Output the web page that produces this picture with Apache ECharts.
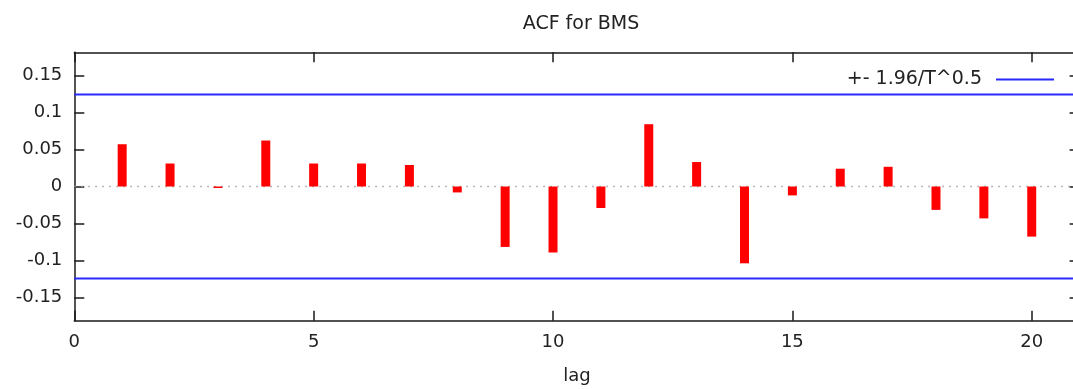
<!DOCTYPE html>
<html>
<head>
<meta charset="utf-8">
<script src="https://cdn.jsdelivr.net/npm/echarts@6/dist/echarts.min.js"></script>
<style>
html,body{margin:0;padding:0;background:#fff;}
#chart{width:1073px;height:389px;}
</style>
</head>
<body>
<div id="chart"></div>
<script>
const titleText = 'ACF for BMS';
const lags = [1,2,3,4,5,6,7,8,9,10,11,12,13,14,15,16,17,18,19,20];
const acf = [0.057,0.031,-0.002,0.062,0.031,0.031,0.029,-0.008,-0.0815,-0.089,-0.029,0.084,0.033,-0.1036,-0.012,0.024,0.0266,-0.0315,-0.043,-0.0676];
const band = 0.1241;
const bandLabel = '+- 1.96/T^0.5';
const xTicks = [0,5,10,15,20];
const yTicks = [-0.15,-0.1,-0.05,0,0.05,0.1,0.15];
const xName = 'lag';

const FONT = 'DejaVu Sans';
const xMin = 0, xMax = 21, yMin = -0.181, yMax = 0.181;

const chart = echarts.init(document.getElementById('chart'), null, {renderer:'canvas'});
const axisLineStyle = {color:'#1a1a1a', width:1.5};
chart.setOption({
  animation:false,
  backgroundColor:'#fff',
  title:{text:titleText, left:576, top:10, textAlign:'center',
    textStyle:{fontFamily:FONT, fontSize:19, fontWeight:'normal', color:'#222'}},
  legend:{right:14, top:65, align:'right', itemWidth:58, itemHeight:2,
    data:[{name:bandLabel, icon:'rect'}],
    textStyle:{fontFamily:FONT, fontSize:19, color:'#222', padding:[0,9,0,0]}},
  grid:{left:74.3, top:52.3, width:1005.3, height:268.4, containLabel:false, outerBoundsMode:'none'},
  xAxis:[
    {type:'value', min:xMin, max:xMax, position:'bottom',
     name:xName, nameLocation:'middle', nameGap:47,
     nameTextStyle:{fontFamily:FONT, fontSize:18, color:'#222'},
     axisLine:{show:true, onZero:false, lineStyle:axisLineStyle},
     axisTick:{show:true, inside:true, length:10, customValues:xTicks, lineStyle:{color:'#1a1a1a', width:1.5}},
     axisLabel:{show:true, customValues:xTicks, margin:13, fontFamily:FONT, fontSize:18, color:'#222'},
     splitLine:{show:false}},
    {type:'value', min:xMin, max:xMax, position:'top',
     axisLine:{show:true, onZero:false, lineStyle:axisLineStyle},
     axisTick:{show:true, inside:true, length:10, customValues:xTicks, lineStyle:{color:'#1a1a1a', width:1.5}},
     axisLabel:{show:false}, splitLine:{show:false}}
  ],
  yAxis:[
    {type:'value', min:yMin, max:yMax, position:'left',
     axisLine:{show:true, onZero:false, lineStyle:axisLineStyle},
     axisTick:{show:true, inside:true, length:10, customValues:yTicks, lineStyle:{color:'#1a1a1a', width:1.5}},
     axisLabel:{show:true, customValues:yTicks, margin:12, fontFamily:FONT, fontSize:18, color:'#222'},
     splitLine:{show:false}},
    {type:'value', min:yMin, max:yMax, position:'right',
     axisLine:{show:true, onZero:false, lineStyle:axisLineStyle},
     axisTick:{show:true, inside:true, length:10, customValues:yTicks, lineStyle:{color:'#1a1a1a', width:1.5}},
     axisLabel:{show:false}, splitLine:{show:false}}
  ],
  series:[
    {type:'line', name:'zero', xAxisIndex:0, yAxisIndex:0, symbol:'none', silent:true,
     data:[[xMin,0],[xMax,0]], lineStyle:{color:'#a0a0a0', width:1.5, type:[1.5,5.5]}, z:1},
    {type:'bar', name:'acf', xAxisIndex:0, yAxisIndex:0, barWidth:9,
     data:lags.map((l,i)=>[l, acf[i]]), itemStyle:{color:'#ff0000'}, z:3},
    {type:'line', name:bandLabel, xAxisIndex:0, yAxisIndex:0, symbol:'none',
     data:[[xMin,band],[xMax,band]], lineStyle:{color:'#2828ff', width:2}, itemStyle:{color:'#2828ff'}, z:2},
    {type:'line', name:bandLabel, xAxisIndex:0, yAxisIndex:0, symbol:'none',
     data:[[xMin,-band],[xMax,-band]], lineStyle:{color:'#2828ff', width:2}, itemStyle:{color:'#2828ff'}, z:2}
  ]
});
</script>
</body>
</html>
